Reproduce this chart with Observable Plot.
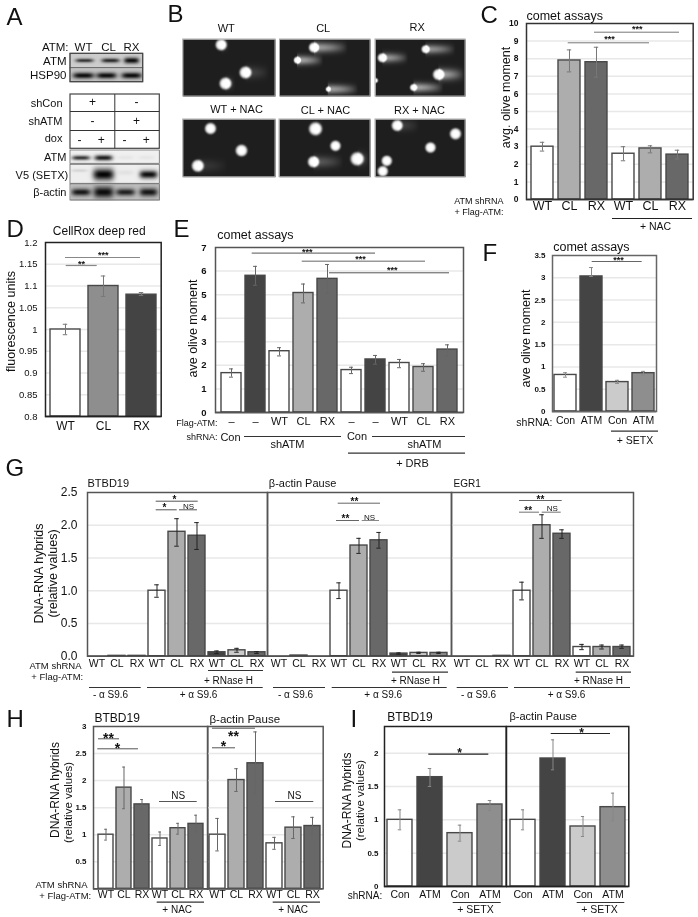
<!DOCTYPE html>
<html>
<head>
<meta charset="utf-8">
<script src="https://cdn.jsdelivr.net/npm/d3@7"></script>
<script src="https://cdn.jsdelivr.net/npm/@observablehq/plot@0.6"></script>
<style>
html,body{margin:0;padding:0;background:#fff}
#page{position:relative;width:698px;height:917px;overflow:hidden;filter:blur(0.3px)}
#page svg{position:absolute;max-width:none;overflow:visible;background:transparent}
</style>
</head>
<body>
<div id="page"></div>
<script>
// ---------- chart values ----------
const W="#ffffff", L="#cbcbcb", M="#adadad", G="#8e8e8e", D="#686868", K="#444444";

const cLabels=["WT","CL","RX","WT","CL","RX"];
const cValues=[3.0,7.9,7.8,2.6,2.9,2.55];
const cLow=[2.75,7.25,6.95,2.2,2.65,2.3];
const cHigh=[3.25,8.5,8.65,3.0,3.05,2.8];
const cFills=[W,M,D,W,M,D];

const dLabels=["WT","CL","RX"];
const dValues=[1.0,1.1,1.08];
const dLow=[0.988,1.076,1.078];
const dHigh=[1.012,1.123,1.085];
const dFills=[W,G,K];

const eLabels=["–","–","WT","CL","RX","–","–","WT","CL","RX"];
const eValues=[1.67,5.8,2.6,5.07,5.67,1.8,2.25,2.1,1.93,2.67];
const eLow=[1.5,5.4,2.4,4.65,5.05,1.65,2.05,1.9,1.75,2.4];
const eHigh=[1.85,6.2,2.75,5.45,6.28,1.92,2.42,2.25,2.07,2.87];
const eFills=[W,K,W,M,D,W,K,W,M,D];

const fLabels=["Con","ATM","Con","ATM"];
const fValues=[0.82,3.03,0.66,0.86];
const fLow=[0.77,3.03,0.63,0.82];
const fHigh=[0.87,3.23,0.7,0.9];
const fFills=[W,K,L,G];

const gLabels=["WT","CL","RX","WT","CL","RX","WT","CL","RX"];
const gFills=[W,M,D,W,M,D,K,L,D];
const g1Values=[0,0.005,0.005,1.0,1.9,1.84,0.06,0.09,0.06];
const g1Low=[0,0.005,0.005,0.9,1.68,1.63,0.04,0.06,0.04];
const g1High=[0,0.005,0.005,1.09,2.1,2.04,0.08,0.12,0.07];
const g2Values=[0,0.01,0,1.0,1.69,1.77,0.04,0.05,0.05];
const g2Low=[0,0.01,0,0.88,1.57,1.65,0.03,0.04,0.04];
const g2High=[0,0.01,0,1.12,1.8,1.89,0.05,0.06,0.06];
const g3Values=[0,0,0.005,1.0,2.0,1.87,0.14,0.14,0.14];
const g3Low=[0,0,0.005,0.86,1.8,1.8,0.1,0.11,0.12];
const g3High=[0,0,0.005,1.13,2.16,1.93,0.18,0.17,0.17];
const g2Fills=[W,M,D,W,M,D,W,M,D];

const hLabels=["WT","CL","RX","WT","CL","RX"];
const hFills=[W,M,D,W,M,D];
const h1Values=[1.0,1.87,1.56,0.93,1.12,1.2];
const h1Low=[0.9,1.48,1.47,0.8,1.01,1.05];
const h1High=[1.1,2.25,1.65,1.05,1.21,1.36];
const h2Values=[1.0,2.01,2.32,0.84,1.13,1.16];
const h2Low=[0.7,1.8,1.75,0.73,0.93,1.0];
const h2High=[1.3,2.22,2.9,0.95,1.33,1.32];

const iLabels=["Con","ATM","Con","ATM"];
const iFills=[W,K,L,G];
const i1Values=[1.0,1.64,0.8,1.23];
const i1Low=[0.85,1.5,0.68,1.14];
const i1High=[1.15,1.77,0.92,1.29];
const i2Values=[1.0,1.92,0.9,1.19];
const i2Low=[0.85,1.75,0.75,0.98];
const i2High=[1.15,2.2,1.05,1.4];

// ---------- helpers ----------
const FONT='"Liberation Sans", Arial, sans-serif';
const page=document.getElementById("page");

function barPanel(o){
  const mL=o.ticks?60:2, mR=4, mT=4, mB=28;
  const width=o.right-o.left+mL+mR, height=o.bottom-o.top+mT+mB;
  const n=o.values.length;
  const rows=d3.range(n).map(i=>({i,value:o.values[i],low:o.low[i],high:o.high[i],fill:o.fills[i]}));
  const step=(o.right-o.left)/(n-o.pi+2*o.po), bw=step*(1-o.pi), capInset=Math.max(0,bw/2-(o.cap??2.5));
  const errRows=rows.filter(d=>d.high>d.low);
  const grid=o.grid??o.ticks0;
  const marks=[
    Plot.ruleY(grid,{stroke:"#e8e8e8",strokeWidth:1.5}),
    Plot.barY(rows,{x:"i",y1:o.domain[0],y2:"value",fill:"fill",stroke:o.barStroke??"#484848",strokeWidth:1.4}),
    Plot.ruleX(errRows,{x:"i",y1:"low",y2:"high",stroke:o.err??"#777",strokeWidth:1}),
    Plot.tickY(errRows,{x:"i",y:"low",stroke:o.err??"#777",strokeWidth:1,insetLeft:capInset,insetRight:capInset}),
    Plot.tickY(errRows,{x:"i",y:"high",stroke:o.err??"#777",strokeWidth:1,insetLeft:capInset,insetRight:capInset}),
    Plot.ruleY([o.domain[0]],{stroke:"#222",strokeWidth:1.6}),
    Plot.frame({stroke:o.frame??"#555",strokeWidth:1.5}),
    Plot.axisX({tickSize:0,tickPadding:o.xPad??3,fontSize:o.xSize??11,label:null,tickFormat:i=>o.labels[i]})
  ];
  if(o.ticks) marks.push(Plot.axisY({ticks:o.ticks,tickSize:0,tickPadding:o.yPad??7,fontSize:o.ySize??8.5,
    fontWeight:o.yWeight??"bold",label:null,tickFormat:o.yFormat??(d=>String(d))}));
  const svg=Plot.plot({
    width,height,marginLeft:mL,marginRight:mR,marginTop:mT,marginBottom:mB,
    style:{fontFamily:FONT,color:"#111",background:"transparent"},
    x:{type:"band",domain:d3.range(n),paddingInner:o.pi,paddingOuter:o.po,axis:null},
    y:{domain:o.domain,axis:null},
    color:{type:"identity"},
    marks
  });
  svg.style.left=(o.left-mL)+"px";
  svg.style.top=(o.top-mT)+"px";
  page.appendChild(svg);
}

// ---------- bar panels ----------
barPanel({left:526,right:692.7,top:23,bottom:199,domain:[0,10],ticks:d3.range(0,11),ticks0:d3.range(1,10),labels:cLabels,values:cValues,low:cLow,high:cHigh,fills:cFills,pi:.19,po:.08,xSize:12.5,xPad:2,yPad:8,ySize:8.5,frame:"#333",err:"#777"});
barPanel({left:45,right:160.7,top:242,bottom:416,domain:[0.8,1.2],ticks:[0.8,0.85,0.9,0.95,1,1.05,1.1,1.15,1.2],ticks0:[0.85,0.9,0.95,1,1.05,1.1,1.15],labels:dLabels,values:dValues,low:dLow,high:dHigh,fills:dFills,pi:.21,po:.1,xSize:12,xPad:5,yPad:8,ySize:9.5,yWeight:"normal",frame:"#222",err:"#777"});
barPanel({left:215,right:463,top:247,bottom:412,domain:[0,7],ticks:d3.range(0,8),ticks0:d3.range(1,7),labels:eLabels,values:eValues,low:eLow,high:eHigh,fills:eFills,pi:.15,po:.075,xSize:11,xPad:5,yPad:9,ySize:9.5,frame:"#555",err:"#666"});
barPanel({left:552,right:656,top:255,bottom:411,domain:[0,3.5],ticks:[0,0.5,1,1.5,2,2.5,3,3.5],ticks0:[0.5,1,1.5,2,2.5,3],labels:fLabels,values:fValues,low:fLow,high:fHigh,fills:fFills,pi:.15,po:.075,xSize:10.5,xPad:5,yPad:7,ySize:8,frame:"#666",err:"#888",cap:2});

const g=[0.5,1,1.5,2];
barPanel({left:87,right:267,top:492,bottom:655.7,domain:[0,2.5],ticks:[0,0.5,1,1.5,2,2.5],ticks0:g,labels:gLabels,values:g1Values,low:g1Low,high:g1High,fills:gFills,pi:.13,po:.05,xSize:10.5,xPad:3,yPad:10,ySize:12,yWeight:"normal",yFormat:d3.format(".1f"),frame:"#555",err:"#222"});
barPanel({left:267,right:451,top:492,bottom:655.7,domain:[0,2.5],ticks0:g,labels:gLabels,values:g2Values,low:g2Low,high:g2High,fills:[W,M,D,W,M,D,K,L,G],pi:.13,po:.1,xSize:10.5,xPad:3,frame:"#555",err:"#222"});
barPanel({left:451,right:633,top:492,bottom:655.7,domain:[0,2.5],ticks0:g,labels:gLabels,values:g3Values,low:g3Low,high:g3High,fills:g2Fills,pi:.13,po:.1,xSize:10.5,xPad:3,frame:"#555",err:"#222"});

const hg=[0.5,1,1.5,2,2.5];
barPanel({left:92.7,right:207,top:725.7,bottom:888,domain:[0,3],ticks:[0.5,1,1.5,2,2.5,3],ticks0:hg,labels:hLabels,values:h1Values,low:h1Low,high:h1High,fills:hFills,pi:.16,po:.09,xSize:10.5,xPad:2,yPad:7,ySize:8,frame:"#555",err:"#666",cap:1.8});
barPanel({left:207,right:322.7,top:725.7,bottom:888,domain:[0,3],ticks0:hg,labels:hLabels,values:h2Values,low:h2Low,high:h2High,fills:hFills,pi:.16,po:.09,xSize:10.5,xPad:2,frame:"#555",err:"#666",cap:1.8});

const ig=[0.5,1,1.5,2];
barPanel({left:384,right:505.7,top:725.7,bottom:885.7,domain:[0,2.4],ticks:[0,0.5,1,1.5,2],ticks0:ig,labels:iLabels,values:i1Values,low:i1Low,high:i1High,fills:iFills,pi:.17,po:.095,xSize:10.5,xPad:4,yPad:6,ySize:8,frame:"#222",err:"#888",cap:1.8});
barPanel({left:505.7,right:628,top:725.7,bottom:885.7,domain:[0,2.4],ticks0:ig,labels:iLabels,values:i2Values,low:i2Low,high:i2High,fills:iFills,pi:.17,po:.08,xSize:10.5,xPad:4,frame:"#222",err:"#888",cap:1.8});

// ---------- blots (panel A) and comets (panel B) ----------
const clamp=v=>Math.max(0,Math.min(255,v));
const blots=[
 {x1:70,x2:142.7,y1:53.3,y2:67.7,bg:205,bands:[[84,60,18,4,150],[110,60,18,4.5,160],[131,60,15,6,190]]},
 {x1:70,x2:142.7,y1:67.7,y2:81.7,bg:195,bands:[[83,75,21,6,185],[106,75,20,6,185],[131,75,20,6,185]]},
 {x1:70,x2:159.3,y1:150,y2:163.3,bg:240,bands:[[80.5,157.3,18,4.5,190],[103,157.3,18,5.5,215],[125,157,16,4,10],[146,157,16,4,10]]},
 {x1:70,x2:159.3,y1:164.3,y2:183.3,bg:238,bands:[[79,170,16,3,25],[103,174,21,12,235],[125,172,16,5,12],[148,174,18,8,225]]},
 {x1:70,x2:159.3,y1:184,y2:200,bg:190,bands:[[80.5,191.7,19,7,170],[103,191.7,20,11,180],[125,191.7,19,7,160],[148,191.7,18,8,170]]}
];
const comets=[
 // image, x, y, radius, tail length, tail strength
 {img:0,x:220.7,y:44.3,r:5.6,t:8,s:.15},{img:0,x:245,y:72,r:6,t:24,s:.22},{img:0,x:225,y:83,r:6,t:10,s:.18},
 {img:1,x:313.3,y:47,r:5,t:34,s:.75},{img:1,x:296.7,y:59.7,r:3.5,t:26,s:.8},{img:1,x:327.7,y:88.7,r:2.5,t:30,s:.75},
 {img:2,x:425,y:48.7,r:4,t:30,s:.7},{img:2,x:381.7,y:57.3,r:4.5,t:26,s:.75},{img:2,x:438,y:74,r:5.5,t:26,s:.8},{img:2,x:413,y:87,r:3.5,t:30,s:.8},{img:2,x:375,y:80,r:2.5,t:0,s:0},
 {img:3,x:210,y:128,r:5.6,t:0,s:0},{img:3,x:241,y:150,r:5.8,t:0,s:0},{img:3,x:197.3,y:165.3,r:6,t:30,s:.15},
 {img:4,x:315,y:128.3,r:6.5,t:8,s:.1},{img:4,x:335,y:145.3,r:5.2,t:0,s:0},{img:4,x:313,y:161.3,r:5.6,t:30,s:.35},{img:4,x:356.7,y:158.3,r:6.6,t:12,s:.25},
 {img:5,x:396.7,y:125,r:5.5,t:22,s:.2},{img:5,x:430,y:147,r:5.2,t:0,s:0},{img:5,x:386.3,y:160.3,r:5.2,t:0,s:0},{img:5,x:382.3,y:170.7,r:5.2,t:0,s:0},{img:5,x:455,y:133.3,r:5.6,t:0,s:0}
];
const cometImages=[
 {x1:182.7,x2:275,y1:39,y2:96},{x1:279.5,x2:370,y1:39,y2:96},{x1:375,x2:465,y1:39,y2:96},
 {x1:182.7,x2:275,y1:119,y2:176.7},{x1:279,x2:370,y1:119,y2:176.7},{x1:375,x2:465,y1:119,y2:176.7}
];
function blotFill(b){
  return (x,y)=>{
    let v=b.bg;
    for(const [cx,cy,w,h,s] of b.bands){
      const dx=(x-cx)/(w/2), dy=(y-cy)/(h/2);
      v-=s*Math.exp(-dx*dx*dx*dx-dy*dy);
    }
    return clamp(v);
  };
}
function cometFill(img){
  const list=comets.filter(c=>c.img===img);
  return (x,y)=>{
    let v=30;
    for(const c of list){
      const d=Math.hypot(x-c.x,y-c.y)/c.r;
      v+=225*Math.exp(-Math.pow(d,6));
      if(c.t>0&&x>c.x){
        const u=(x-c.x)/c.t, dy=(y-c.y)/(Math.max(c.r,4.5));
        v+=170*c.s*Math.exp(-dy*dy)*Math.max(0,1-u*u);
      }
    }
    return clamp(v);
  };
}

// ---------- annotation layout (page pixels) ----------
const texts=[
 // panel letters
 ["A",6,17,24,"start"],["B",167,14,24,"start"],["C",480,15,24,"start"],["D",6,229,24,"start"],["E",173,229,24,"start"],["F",482,253,24,"start"],["G",5,468,24,"start"],["H",6,719,24,"start"],["I",350,719,24,"start"],
 // A
 ["ATM:",68,47,11.5,"end"],["WT",83,47,11.5,"middle"],["CL",108,47,11.5,"middle"],["RX",131,47,11.5,"middle"],
 ["ATM",66,61,11.5,"end"],["HSP90",66,75,11.5,"end"],
 ["shCon",62,103,11,"end"],["shATM",62,121,11,"end"],["dox",62,138,11,"end"],
 ["+",92,102,12,"middle"],["-",136,102,12,"middle"],["-",92,121,12,"middle"],["+",136,121,12,"middle"],
 ["-",79,140,12,"middle"],["+",100.7,140,12,"middle"],["-",124,140,12,"middle"],["+",145.7,140,12,"middle"],
 ["ATM",66,157,11,"end"],["V5 (SETX)",67.7,174.7,11,"end"],["β-actin",66,191.7,11,"end"],
 // B
 ["WT",225.7,28,11,"middle"],["CL",322.7,28,11,"middle"],["RX",416.7,27,11,"middle"],
 ["WT + NAC",236,109,11,"middle"],["CL + NAC",325,109.7,11,"middle"],["RX + NAC",419,110,11,"middle"],
 // C
 ["comet assays",526,15,12.5,"start"],["avg. olive moment",505,97,12.5,"middle",-90],
 ["ATM shRNA",503,201,9,"end"],["+ Flag-ATM:",503,212,9,"end"],["+ NAC",655,226,10.5,"middle"],
 // D
 ["CellRox deep red",98.7,230.7,12,"middle"],["fluorescence units",10,321,12.5,"middle",-90],
 // E
 ["comet assays",216.7,234,12.5,"start"],["ave olive moment",192,328,12.5,"middle",-90],
 ["Flag-ATM:",217,423,9,"end"],["shRNA:",217,437,9,"end"],["Con",230,436.5,11,"middle"],["shATM",287,444,11,"middle"],["Con",356.5,436,11,"middle"],["shATM",424,444,11,"middle"],["+ DRB",412,463,11,"middle"],
 // F
 ["comet assays",552.7,246.7,12.5,"start"],["ave olive moment",525.7,338,12.5,"middle",-90],
 ["shRNA:",552,422,10.5,"end"],["+ SETX",634.5,440,10.5,"middle"],
 // G
 ["BTBD19",87,483,11,"start"],["β-actin Pause",268.3,483,11,"start"],["EGR1",453,483,10,"start"],
 ["DNA-RNA hybrids",38,573,12.5,"middle",-90],["(relative values)",52,573,12.5,"middle",-90],
 ["ATM shRNA",81,665,9.5,"end"],["+ Flag-ATM:",82.7,676,9.5,"end"],
 ["+ RNase H",228,680,10,"middle"],["+ RNase H",415,680,10,"middle"],["+ RNase H",598,680,10,"middle"],
 ["- α S9.6",110,694,10,"middle"],["+ α S9.6",198,694,10,"middle"],["- α S9.6",295,694,10,"middle"],["+ α S9.6",382.7,694,10,"middle"],["- α S9.6",478,694,10,"middle"],["+ α S9.6",566,694,10,"middle"],
 ["NS",188,505.7,8,"middle"],["NS",369,516.7,8,"middle"],["NS",551.7,507.7,8,"middle"],
 // H
 ["BTBD19",94,718,12,"start"],["β-actin Pause",209,719,11.5,"start"],
 ["DNA-RNA hybrids",55,789.5,12,"middle",-90],["(relative values)",68,802,11.5,"middle",-90],
 ["ATM shRNA",87,884,9.5,"end"],["+ Flag-ATM:",90.7,895,9.5,"end"],
 ["NS",177.7,795,10,"middle"],["NS",294,795,10,"middle"],["+ NAC",176.7,909,10,"middle"],["+ NAC",292.7,909,10,"middle"],
 // I
 ["BTBD19",386.7,716.7,12,"start"],["β-actin Pause",509,716,11,"start"],
 ["DNA-RNA hybrids",347,800,12,"middle",-90],["(relative values)",360,800,11.5,"middle",-90],
 ["shRNA:",381.7,895,10,"end"],["+ SETX",475,909,10.5,"middle"],["+ SETX",599,909,10.5,"middle"]
].map(([text,x,y,size,anchor,rotate])=>({text,x,y,size,anchor,rotate:rotate??0}));

const stars=[
 ["***",609,37,9],["***",636.7,27,9],["***",102.7,252.7,9],["**",81,262,9],
 ["***",306.7,250,9],["***",360,257,9],["***",391.7,268,9],["***",618,258,9],
 ["*",174,497,10],["*",164,505,10],["**",354,499,10],["**",345,516,10],["**",540,497,10],["**",527.7,508,10],
 ["**",108,735,14],["*",117,745,14],["**",233,733,14],["*",223,743,14],["*",459,750,12],["*",581,730,12]
].map(([text,x,y,size])=>({text,x,y:y+size*0.2,size}));

const rules=[
 // significance brackets
 [567.7,649,42.3,"#777",1],[594,679,31.7,"#777",1],[65,140,257,"#888",1.2],[65.7,96.7,265,"#888",1.2],
 [251.7,375,252.7,"#777",1.2],[301.7,425,260.7,"#999",1.4],[329,449,272.3,"#555",1],[591.7,641.7,261,"#666",1],
 [155.7,197.7,500.7,"#555",1],[155.7,176.7,509.3,"#555",1],[179,197,509.3,"#555",1],
 [337.7,380,502.7,"#666",1],[336,359,520,"#666",1],[361.7,379,520,"#888",1],
 [519,561.7,500,"#666",1],[519,539,511.7,"#888",1.2],[541.7,560.7,511.7,"#888",1.2],
 [98,119,738.3,"#555",1],[97.3,138,748.3,"#555",1],[212,255,727.7,"#555",1],[212,235,747.3,"#555",1],
 [159,196.7,801,"#555",1],[275,313.3,801,"#555",1],[428.3,488.3,753.7,"#222",1.2],[550.7,610,733,"#222",1.2],
 // group underlines
 [612,692,218,"#222",1],[244,341,436,"#333",1.2],[372,465,436,"#333",1.2],[348,465,452.7,"#333",1.2],[611,658,430.7,"#333",1.2],
 [208,263,670,"#333",1.2],[392,448,671.7,"#333",1.2],[575.7,631,671.7,"#333",1.2],
 [89,140.7,687,"#333",1.2],[147,262.7,687,"#333",1.2],[273,325,687,"#333",1.2],[331.7,446.7,687,"#333",1.2],[456.7,508,687,"#333",1.2],[514,630,687,"#333",1.2],
 [156.7,204,901.7,"#333",1.2],[272.7,320,901.7,"#333",1.2],[452.7,500.7,902,"#333",1.2],[576.7,624.3,902,"#333",1.2],
 // dox table rows
 [70,159.3,111,"#333",1],[70,159.3,130,"#333",1]
].map(([x1,x2,y,stroke,sw])=>({x1,x2,y,stroke,sw}));

const boxes=[
 {x1:70,x2:142.7,y1:53.3,y2:81.7},{x1:70,x2:159.3,y1:94,y2:148.3}
];

const overlayMarks=[];
blots.forEach(b=>overlayMarks.push(Plot.raster({x1:b.x1,x2:b.x2,y1:b.y1,y2:b.y2,pixelSize:1,fill:blotFill(b)})));
cometImages.forEach((im,k)=>overlayMarks.push(Plot.raster({x1:im.x1,x2:im.x2,y1:im.y1,y2:im.y2,pixelSize:1,fill:cometFill(k)})));
overlayMarks.push(Plot.rect(cometImages,{x1:"x1",x2:"x2",y1:"y1",y2:"y2",stroke:"#aaa",strokeWidth:1,fill:"none"}));
overlayMarks.push(Plot.rect(blots,{x1:"x1",x2:"x2",y1:"y1",y2:"y2",stroke:"#666",strokeWidth:.8,fill:"none"}));
overlayMarks.push(Plot.rect(boxes,{x1:"x1",x2:"x2",y1:"y1",y2:"y2",stroke:"#444",strokeWidth:1.2,fill:"none"}));
overlayMarks.push(Plot.ruleX([114.3],{y1:94,y2:148.3,stroke:"#333",strokeWidth:1}));
overlayMarks.push(Plot.ruleY(rules,{y:"y",x1:"x1",x2:"x2",stroke:"stroke",strokeWidth:"sw"}));
for(const anchor of ["start","middle","end"]){
  overlayMarks.push(Plot.text(texts.filter(t=>t.anchor===anchor),{text:"text",x:"x",y:"y",fontSize:d=>d.size,rotate:"rotate",textAnchor:anchor,lineAnchor:"middle",fill:"#111"}));
}
overlayMarks.push(Plot.text(stars,{text:"text",x:"x",y:"y",fontSize:d=>d.size,textAnchor:"middle",lineAnchor:"middle",fill:"#111",fontWeight:"bold"}));

const overlay=Plot.plot({
  width:698,height:917,margin:0,
  style:{fontFamily:FONT,color:"#111",background:"transparent"},
  x:{type:"linear",domain:[0,698],range:[0,698],axis:null},
  y:{type:"linear",domain:[0,917],range:[0,917],axis:null},
  color:{type:"linear",domain:[0,255],range:["#000000","#ffffff"]},
  marks:overlayMarks
});
overlay.style.left="0px";overlay.style.top="0px";
page.appendChild(overlay);
</script>
</body>
</html>
